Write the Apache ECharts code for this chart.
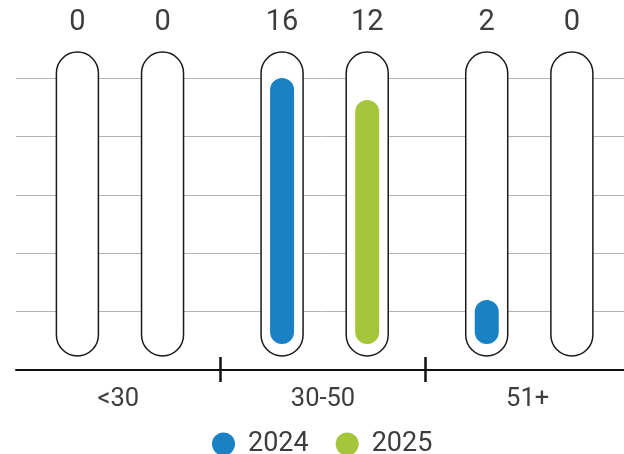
<!DOCTYPE html>
<html>
<head>
<meta charset="utf-8">
<script src="https://cdn.jsdelivr.net/npm/echarts@6/dist/echarts.min.js"></script>
<style>
html,body{margin:0;padding:0;background:#fff;}
#chart{width:624px;height:454px;}
</style>
</head>
<body>
<div id="chart"></div>
<script>
// ---- data ----
const categories = ['<30', '30-50', '51+'];
const seriesNames = ['2024', '2025'];
const counts2024 = [0, 16, 2];
const counts2025 = [0, 12, 0];
// drawn fill level of each tube, in % of the top gridline
const fill2024 = [0, 100, 24];
const fill2025 = [0, 92.5, 0];
const yMin = 0, yMax = 100, yStep = 20;

// ---- style constants ----
const TRACK_TOP = 108.9;
const TRACK_BOTTOM = 4.8;
const BAR_BOTTOM = 8.9;
const TEXT = '#3d3d3d';
const FONT = 'Roboto, "Noto Sans", sans-serif';
const colors = ['#1a82c4', '#a5c63a'];
const offsets = [-0.2, 0.216];

function renderItem(params, api) {
  const cat = api.value(0), level = api.value(1), count = api.value(2);
  const band = api.size([1, 0])[0];
  const base = api.coord([cat, 0]);
  const cx = base[0] + offsets[params.seriesIndex] * band;
  const yTop = api.coord([cat, TRACK_TOP])[1];
  const yBot = api.coord([cat, TRACK_BOTTOM])[1];
  const children = [{
    type: 'rect',
    shape: { x: cx - 21, y: yTop, width: 42, height: yBot - yTop, r: 21 },
    style: { fill: '#fff', stroke: '#1a1a1a', lineWidth: 1.5 }
  }];
  if (level > 0) {
    const y1 = api.coord([cat, level])[1];
    const y0 = api.coord([cat, BAR_BOTTOM])[1];
    children.push({
      type: 'rect',
      shape: { x: cx - 12, y: y1, width: 24, height: y0 - y1, r: 12 },
      style: { fill: api.visual('color') }
    });
  }
  children.push({
    type: 'text',
    style: {
      text: String(count), x: cx, y: yTop - 29.5,
      align: 'center', verticalAlign: 'middle',
      fontSize: 29, fontFamily: FONT, fill: TEXT
    }
  });
  return { type: 'group', children: children };
}

function buildData(fills, counts) {
  return categories.map((c, i) => [i, fills[i], counts[i]]);
}

const tickInterval = function (idx) { return idx !== 0; };

const chart = echarts.init(document.getElementById('chart'), null, { renderer: 'canvas' });
chart.setOption({
  animation: false,
  backgroundColor: '#fff',
  grid: { left: 16, top: 78, width: 614, height: 292, containLabel: false, outerBoundsMode: 'none' },
  legend: {
    data: seriesNames,
    left: 212, top: 430.5, padding: 0,
    icon: 'circle', itemWidth: 23, itemHeight: 23, itemGap: 27,
    textStyle: { fontSize: 27, color: TEXT, fontFamily: FONT, padding: [0, 0, 0, 8] }
  },
  xAxis: [{
    type: 'category', data: categories, position: 'bottom',
    axisLine: { lineStyle: { color: '#111', width: 2 } },
    axisTick: { show: true, interval: tickInterval, length: 12, lineStyle: { color: '#111', width: 2.5 } },
    axisLabel: { fontSize: 25.5, color: TEXT, fontFamily: FONT, margin: 17 },
    splitLine: { show: false }
  }, {
    type: 'category', data: categories, position: 'bottom', offset: 0,
    axisLine: { show: false },
    axisTick: { show: true, inside: true, interval: tickInterval, length: 13, lineStyle: { color: '#111', width: 2.5 } },
    axisLabel: { show: false },
    splitLine: { show: false }
  }],
  yAxis: {
    type: 'value', min: yMin, max: yMax, interval: yStep,
    axisLine: { show: false }, axisTick: { show: false }, axisLabel: { show: false },
    splitLine: { lineStyle: { color: '#b4b4b4', width: 1 } }
  },
  series: [{
    name: seriesNames[0], type: 'custom', renderItem: renderItem,
    itemStyle: { color: colors[0] },
    encode: { x: 0, y: 1 },
    data: buildData(fill2024, counts2024)
  }, {
    name: seriesNames[1], type: 'custom', renderItem: renderItem,
    itemStyle: { color: colors[1] },
    encode: { x: 0, y: 1 },
    data: buildData(fill2025, counts2025)
  }]
});
</script>
</body>
</html>
